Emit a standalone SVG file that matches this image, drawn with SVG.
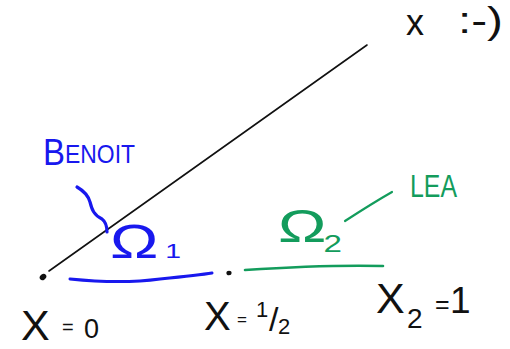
<svg xmlns="http://www.w3.org/2000/svg" width="510" height="349" viewBox="0 0 510 349">
<style>
.t{font-family:"Liberation Sans",Arial,sans-serif}
.k{fill:#111}
.b{fill:#1818ee}
.g{fill:#139c5c}
.sb{stroke:#1818ee;fill:none;stroke-linecap:round;stroke-linejoin:round}
.sg{stroke:#139c5c;fill:none;stroke-linecap:round}
</style>
<rect width="510" height="349" fill="#fff"/>
<g id="axis">
<path d="M49,271 L367,45" stroke="#111" stroke-width="1.6" fill="none" stroke-linecap="round"/>
<ellipse cx="43" cy="277" rx="3.6" ry="2.8" transform="rotate(-40 43 277)" fill="#111"/>
<ellipse cx="229" cy="273" rx="2.6" ry="2.3" fill="#111"/>
</g>
<g id="omega1">
<path class="sb" d="M70,279 C100,282 130,283 160,279 C180,277 200,275 212,273" stroke-width="3"/>
<text class="t b" transform="translate(110,258) scale(1.35,1)" x="0" y="0" font-size="48">Ω<tspan x="41" font-size="21">1</tspan></text>
</g>
<g id="omega2">
<path class="sg" d="M245,270 C290,267 340,265 383,266" stroke-width="2.6"/>
<text class="t g" transform="translate(278,242) scale(1.38,1)" x="0" y="0" font-size="47">Ω<tspan x="33" y="10" font-size="24">2</tspan></text>
</g>
<g id="benoit">
<text class="t b" x="43" y="165" font-size="36" textLength="92" lengthAdjust="spacingAndGlyphs">B<tspan font-size="25" dy="-2">ENOIT</tspan></text>
<path class="sb" d="M77,187 C84,191 88,195 90,202 C92,210 94,215 102,219 C106,222 107,226 107,232" stroke-width="3.2"/>
</g>
<g id="lea">
<text class="t g" x="410" y="197" font-size="32" textLength="47" lengthAdjust="spacingAndGlyphs">LEA</text>
<path class="sg" d="M345,221 C362,210 378,200 392,192" stroke-width="2.2"/>
</g>
<g id="x0">
<text class="t k"><tspan x="21" y="340" font-size="43">X</tspan> <tspan x="62" y="334" font-size="20">=</tspan> <tspan x="84" y="338" font-size="27">0</tspan></text>
</g>
<g id="xhalf">
<text class="t k"><tspan x="204" y="330" font-size="40">X</tspan> <tspan x="237" y="325" font-size="17">=</tspan> <tspan x="256" y="317" font-size="22">1</tspan><tspan x="269" y="331" font-size="34">/</tspan><tspan x="278" y="334" font-size="22">2</tspan></text>
</g>
<g id="x1">
<text class="t k"><tspan x="376" y="313" font-size="43">X</tspan><tspan x="407" y="328" font-size="28">2</tspan> <tspan x="435" y="313" font-size="25">=</tspan><tspan x="450" y="313" font-size="37">1</tspan></text>
</g>
<g id="smiley">
<text class="t k"><tspan x="406" y="35" font-size="36">x</tspan> <tspan x="458" y="33" font-size="36" textLength="45" lengthAdjust="spacingAndGlyphs">:-)</tspan></text>
</g>
</svg>
